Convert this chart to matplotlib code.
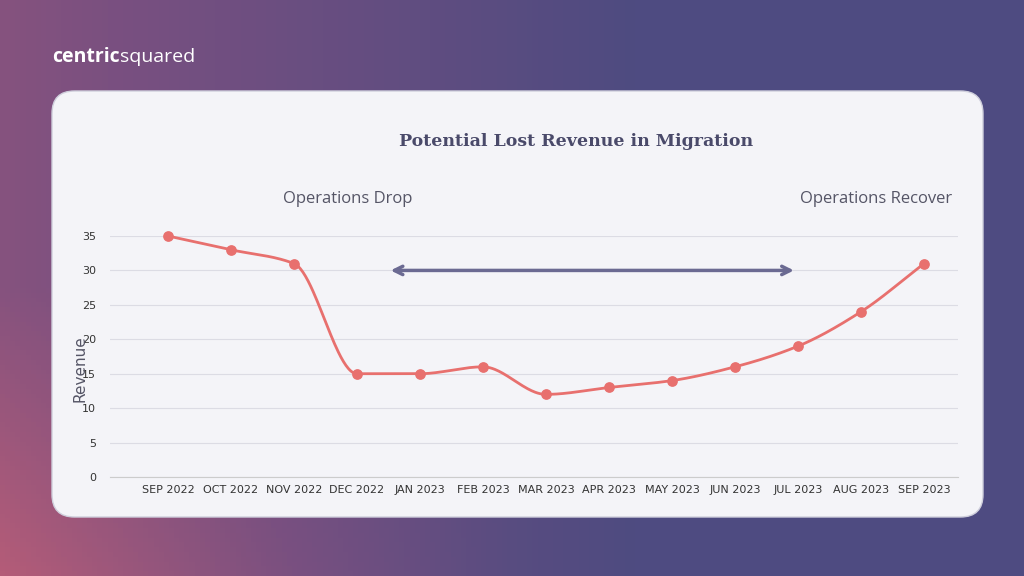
import numpy as np
import matplotlib.pyplot as plt
from matplotlib.patches import FancyBboxPatch
from matplotlib.colors import LinearSegmentedColormap

months = ['SEP 2022', 'OCT 2022', 'NOV 2022', 'DEC 2022', 'JAN 2023', 'FEB 2023', 'MAR 2023',
          'APR 2023', 'MAY 2023', 'JUN 2023', 'JUL 2023', 'AUG 2023', 'SEP 2023']
revenue = [35, 33, 31, 15, 15, 16, 12, 13, 14, 16, 19, 24, 31]
yticks = [0, 5, 10, 15, 20, 25, 30, 35]


def pchip(x, y, xs):
    x = np.asarray(x, float); y = np.asarray(y, float)
    h = np.diff(x); d = np.diff(y) / h
    m = np.zeros_like(y)
    for i in range(1, len(y) - 1):
        if d[i - 1] * d[i] > 0:
            m[i] = 2 / (1 / d[i - 1] + 1 / d[i])
    m[0] = d[0]; m[-1] = d[-1]
    idx = np.clip(np.searchsorted(x, xs) - 1, 0, len(h) - 1)
    t = (xs - x[idx]) / h[idx]
    h00 = 2*t**3 - 3*t**2 + 1; h10 = t**3 - 2*t**2 + t
    h01 = -2*t**3 + 3*t**2; h11 = t**3 - t**2
    return h00*y[idx] + h10*h[idx]*m[idx] + h01*y[idx+1] + h11*h[idx]*m[idx+1]


fig = plt.figure(figsize=(10.24, 5.76), dpi=100)

# background gradient
bg = fig.add_axes([0, 0, 1, 1])
bg.axis('off')
xx, yy = np.meshgrid(np.linspace(0, 1, 200), np.linspace(0, 1, 120))
w = np.clip(1 - xx * 1.6, 0, 1) * 0.6 + np.clip(yy - 0.5, 0, 1) * np.clip(1 - xx * 2, 0, 1) * 0.8
cmap = LinearSegmentedColormap.from_list('bg', ['#4e4b81', '#7a5080', '#b45c78'])
bg.imshow(np.clip(w, 0, 1), cmap=cmap, aspect='auto', extent=[0, 1, 0, 1], origin='upper', vmin=0, vmax=1)
bg.set_xlim(0, 1); bg.set_ylim(0, 1)
bg.add_patch(FancyBboxPatch((52/1024, 1-517/576), 931/1024, 426/576,
                            boxstyle='round,pad=0,rounding_size=0.022', mutation_aspect=1024/576,
                            fc='#f4f4f8', ec='#cfcfdc', lw=1, transform=bg.transAxes))
bg.text(52/1024, 1-57/576, 'centric', color='white', fontsize=14, fontweight='bold', va='center', family='Open Sans')
bg.text(120/1024, 1-57/576, 'squared', color='white', fontsize=14, va='center', family='Open Sans')
bg.text(576/1024, 1-141/576, 'Potential Lost Revenue in Migration', color='#4a4a6a', fontsize=12.5,
        fontweight='bold', ha='center', va='center', family='DejaVu Serif')

ax = fig.add_axes([110/1024, 1-477/576, 848/1024, 241/576])
ax.set_facecolor('none')
x = np.arange(len(months))
xs = np.linspace(0, len(months) - 1, 600)
ax.plot(xs, pchip(x, revenue, xs), color='#e8706e', lw=2, clip_on=False)
ax.scatter(x, revenue, color='#e8706e', s=45, zorder=3, clip_on=False)
ax.set_xlim(-0.92, 12.54)
ax.set_ylim(0, 35)
ax.set_yticks(yticks)
ax.set_xticks(x)
ax.set_xticklabels(months, fontsize=8, color='#333333')
ax.tick_params(axis='y', labelsize=8, colors='#333333', length=0, pad=10)
ax.tick_params(axis='x', length=0, pad=6)
ax.grid(axis='y', color='#dcdce4', lw=0.8)
for s in ['top', 'right', 'left']:
    ax.spines[s].set_visible(False)
ax.spines['bottom'].set_color('#cccccc')
ax.set_ylabel('Revenue', fontsize=11, color='#555566', labelpad=0)
ax.yaxis.set_label_coords(-23/848, 0.45)
ax.annotate('', xy=(9.98, 30), xytext=(3.49, 30),
            arrowprops=dict(arrowstyle='<->', color='#6b6a92', lw=2.5, mutation_scale=15))
ax.text(2.85, 40.4, 'Operations Drop', fontsize=12, color='#555566', ha='center', va='center', family='Open Sans')
ax.text(11.24, 40.4, 'Operations Recover', fontsize=12, color='#555566', ha='center', va='center', family='Open Sans')

fig.savefig('out.png', dpi=100)
